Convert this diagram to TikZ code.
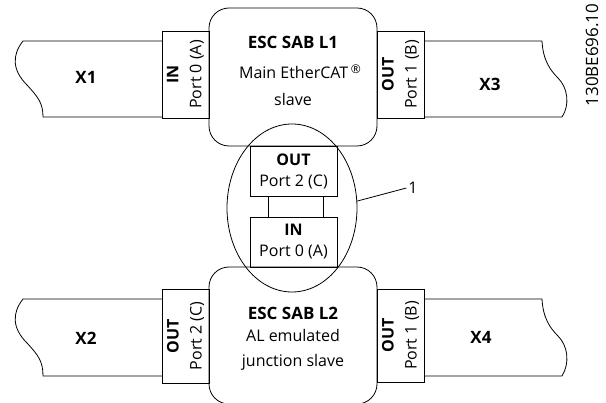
\documentclass[tikz,border=0pt]{standalone}
\usepackage{fontspec}
\setmainfont{Open Sans}
\usetikzlibrary{shapes.geometric}
\begin{document}
\begin{tikzpicture}[x=1pt,y=-1pt,
  every node/.style={inner sep=0pt, outer sep=0pt},
  line/.style={line width=0.8pt},
  mainbox/.style={draw, line width=0.8pt, rounded corners=20pt, minimum width=168pt},
  portbox/.style={draw, line width=0.8pt},
  txt/.style={font=\fontsize{16}{18}\selectfont, align=center},
  bold/.style={font=\fontsize{17}{18}\selectfont\bfseries},
  xlab/.style={font=\fontsize{17}{18}\selectfont\bfseries},
  porttxt/.style={font=\fontsize{16}{23}\selectfont, align=center, rotate=90},
  midtxt/.style={font=\fontsize{16}{21}\selectfont, align=center}
]
\useasboundingbox (0,0) rectangle (606,403);

% main boxes
\node[mainbox, minimum height=138pt] (L1) at (293,77) {};
\node[mainbox, minimum height=137pt] (L2) at (293,335.5) {};

% port boxes of L1
\node[portbox, minimum width=47pt, minimum height=87pt] (p1a) at (185.5,74.5) {};
\node[portbox, minimum width=47pt, minimum height=87pt] (p1b) at (400.5,74.5) {};
% port boxes of L2
\node[portbox, minimum width=47pt, minimum height=94pt] (p2c) at (185.5,336) {};
\node[portbox, minimum width=47pt, minimum height=93pt] (p2b) at (400.5,335.5) {};

% middle ports
\node[portbox, minimum width=87pt, minimum height=50pt] (mout) at (293.5,171) {};
\node[portbox, minimum width=55pt, minimum height=21pt] (mlink) at (295.5,206.5) {};
\node[portbox, minimum width=87pt, minimum height=50pt] (min) at (293.5,242) {};

% ellipse
\node[draw, line width=0.8pt, ellipse, minimum width=130pt, minimum height=168pt] (ell) at (292,208) {};
\node[font=\fontsize{16}{18}\selectfont] (one) at (413,188) {1};
\draw[line] (ell.6) -- ([xshift=-2pt]one.west);

% cables
\draw[line] (p1a.north west |- 0,41) -- (23,41) .. controls (12,55) and (12,70) .. (27,85)
  .. controls (38,97) and (43,103) .. (43,117) -- (p1a.south west |- 0,117);
\draw[line] (p1b.north east |- 0,41) -- (542,41) .. controls (543,60) and (550,70) .. (558,78)
  .. controls (568,88) and (570,105) .. (562,117) -- (p1b.south east |- 0,117);
\draw[line] (p2c.north west |- 0,299) -- (23,299) .. controls (12,313) and (12,328) .. (27,343)
  .. controls (38,355) and (43,361) .. (43,376) -- (p2c.south west |- 0,376);
\draw[line] (p2b.north east |- 0,299) -- (542,299) .. controls (543,318) and (550,328) .. (558,336)
  .. controls (568,346) and (570,363) .. (562,376) -- (p2b.south east |- 0,376);

% cable labels
\node[xlab] (x1) at (86,77) {X1};
\node[xlab] (x3) at (490,84) {X3};
\node[xlab] (x2) at (86,338) {X2};
\node[xlab] (x4) at (481,337) {X4};

% L1 text
\node[bold] (t1a) at (293,42) {ESC SAB L1};
\node[txt] (t1b) at (300,72) {Main EtherCAT\,\raisebox{0.55ex}{\fontsize{12}{12}\selectfont ®}};
\node[txt] (t1c) at (293,100) {slave};
% L2 text
\node[bold] (t2a) at (293,313) {ESC SAB L2};
\node[txt] (t2b) at (293,336) {AL emulated};
\node[txt] (t2c) at (293,362) {junction slave};

% port texts
\node[porttxt] at (p1a) {\textbf{IN}\\Port 0 (A)};
\node[porttxt] at (p1b) {\textbf{OUT}\\Port 1 (B)};
\node[porttxt] at (p2c) {\textbf{OUT}\\Port 2 (C)};
\node[porttxt] at (p2b) {\textbf{OUT}\\Port 1 (B)};
\node[midtxt] at (mout) {\textbf{OUT}\\Port 2 (C)};
\node[midtxt] at (min) {\textbf{IN}\\Port 0 (A)};

% id
\node[font=\fontsize{17}{18}\selectfont, rotate=90] (id) at (592,55) {130BE696.10};
\end{tikzpicture}
\end{document}
